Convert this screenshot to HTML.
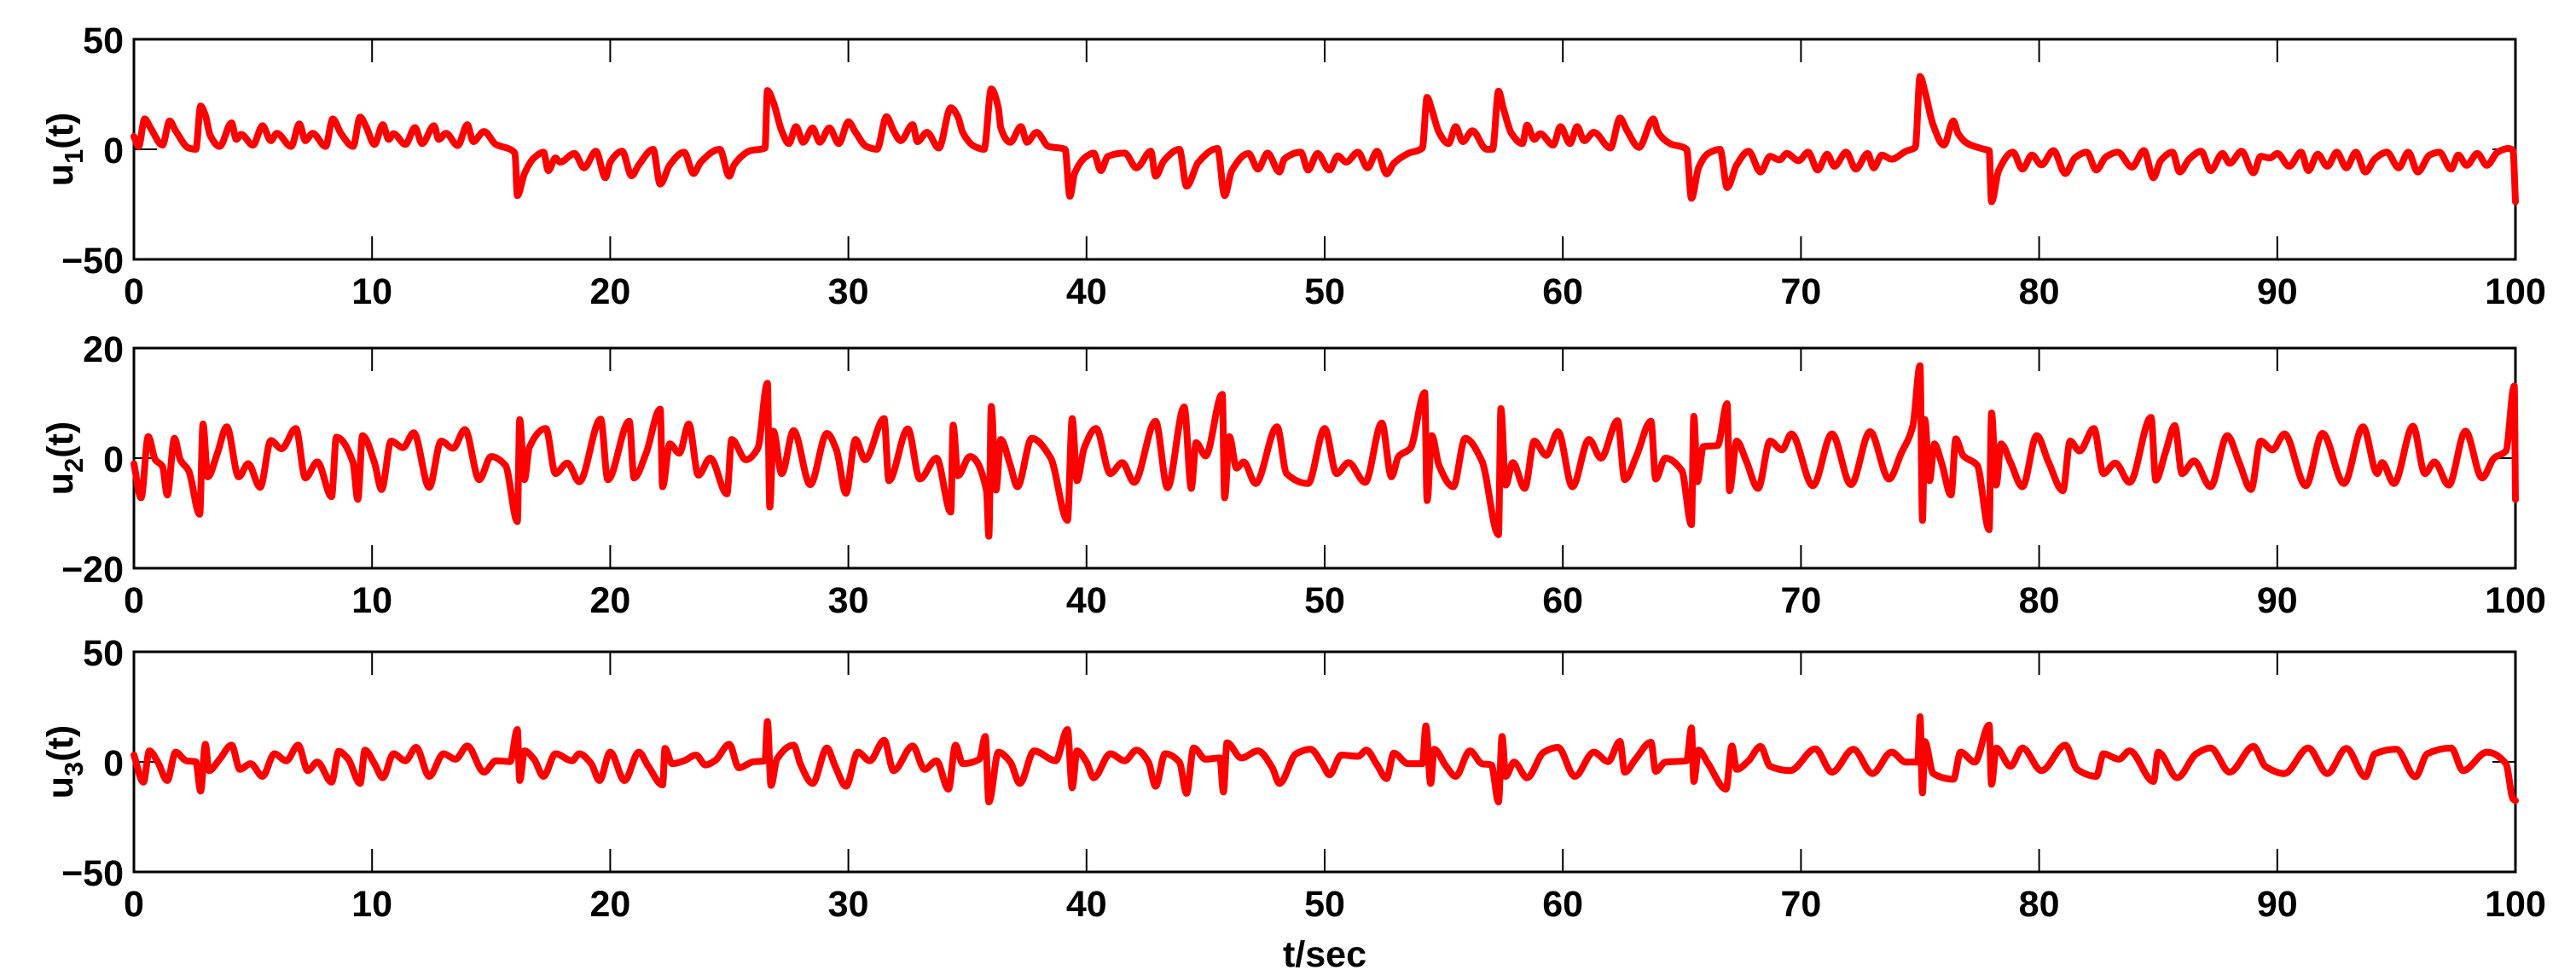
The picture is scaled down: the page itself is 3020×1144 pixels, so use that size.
<!DOCTYPE html>
<html><head><meta charset="utf-8"><style>
html,body{margin:0;padding:0;background:#fff;}
svg{display:block;}
text{font-family:"Liberation Sans",Arial,sans-serif;font-weight:bold;fill:#000;}
</style></head><body>
<svg id="chart" width="3020" height="1144" viewBox="0 0 3020 1144" xmlns="http://www.w3.org/2000/svg"></svg>
<script>
const xTicks = [0,10,20,30,40,50,60,70,80,90,100];
const yTicks1 = [-50,0,50];
const yTicks2 = [-20,0,20];
const yTicks3 = [-50,0,50];
const u1T = [0,0.2,0.45,0.7,1.2,1.5,1.75,2.3,2.6,2.8,3,3.2,3.6,4.1,4.3,4.5,5,5.4,5.75,6,6.6,6.95,7.2,7.5,8.05,8.35,8.7,9.2,9.5,9.75,10.1,10.45,10.7,10.9,11.4,11.8,12.1,12.6,12.8,13.1,13.6,14,14.25,14.7,15.2,15.8,16,16.1,16.4,16.8,17.2,17.4,17.7,17.9,18.5,18.9,19.4,19.8,20,20.5,20.9,21.2,21.8,22.1,22.5,23.1,23.5,23.8,24.6,25,25.2,25.9,26.5,26.6,26.85,27.2,27.5,27.8,28.1,28.5,28.8,29.2,29.6,30,30.3,30.75,31.2,31.6,31.9,32.2,32.7,32.9,33.3,33.8,34.3,34.6,34.8,35.3,35.7,36,36.3,36.4,36.8,37.25,37.5,37.9,38.4,39.1,39.3,39.5,40,40.3,40.6,40.9,41.6,42.1,42.7,42.9,43.25,43.9,44.2,44.7,45.5,45.8,46.1,46.8,47.2,47.6,48.1,48.3,49,49.3,49.7,50.2,50.55,50.9,51.4,51.8,52.2,52.6,52.9,53.5,54.1,54.3,54.5,54.8,55.2,55.5,55.8,56.2,56.8,57.05,57.3,57.5,57.85,58.3,58.5,58.8,59.05,59.6,59.9,60.3,60.6,60.9,61.3,62,62.4,62.7,63.2,63.8,64,64.5,65.2,65.4,65.7,66.1,66.6,66.9,67.3,67.8,68.3,68.7,69.1,69.4,69.9,70.3,70.7,71.1,71.4,71.9,72.3,72.8,73.05,73.4,73.8,74.4,74.8,75,75.2,75.55,76,76.4,76.6,77,77.7,77.9,78,78.3,78.9,79.3,79.7,80.1,80.6,81.1,81.5,82,82.4,82.8,83.3,83.9,84.4,84.8,85.1,85.6,85.9,86.3,86.8,87.2,87.7,88,88.5,89,89.3,89.7,90,90.5,91,91.3,91.7,92.1,92.5,92.9,93.3,93.7,94.1,94.6,95.1,95.5,95.9,96.4,96.8,97.3,97.6,97.95,98.4,98.8,99.25,99.7,99.9,100];
const u1V = [5.8,1.3,13.8,9.7,1.9,12.9,8.4,0.6,0,19.7,15.5,6.4,1.3,12,4.5,6.8,1.9,10.7,3.9,7.3,1.3,11.5,3.9,7.3,1.3,13.8,7.1,1.3,14.6,10.3,2.2,11.2,4.5,7.1,2.2,9.9,2.6,10.7,4.5,7.3,1.7,11.2,3.5,8.1,2.2,0,-1.9,-21,-11,-3.9,-1.3,-9.7,-3.9,-5.8,-1.9,-8.4,-0.9,-12.9,-5.8,-0.9,-12,-7.1,0,-15.8,-7.1,-1.3,-11,-5.8,0,-12.2,-7.1,-0.6,0.6,26.7,21.3,8.4,2.6,10.3,3.2,9.7,3.2,9.7,2.6,12.5,7.7,1.3,0,14.8,8.4,3.9,11.2,3.5,7.7,0.6,18.9,14.8,7.7,1.3,0,27.4,18.7,9.7,3.2,10.3,3.2,7.7,1.3,0,-21.3,-11,-3.2,-1.7,-9.7,-3.2,-1.7,-8.4,-0.9,-12.2,-5.2,0,-16.8,-5.8,0.4,-21,-9.7,-1.9,-9,-1.7,-10.3,-4.5,-1.3,-9.4,-1.9,-9.4,-3,-5.8,-1.3,-8.4,-0.9,-11.2,-6.4,-1.9,0.6,23.6,18,7.7,2.6,10.3,3.5,8.4,0,0,26.4,18.7,7.1,2.6,11,4.5,7.1,1.9,10.3,2.6,10.3,3.9,7.7,0.6,14.2,8.4,0.9,13.8,7.7,2.6,0,-22.3,-8.4,-1.9,0,-17.4,-7.1,-0.9,-10.3,-3.2,-4.8,-1.9,-5.2,-1.3,-9.4,-2.2,-7.7,-1.3,-9,-1.9,-8.4,-2.6,-4.5,-0.9,0.9,33.1,26.4,11,1.9,12.9,7.1,2.6,0,-0.6,-23.8,-9.7,-1.3,-9,-2.6,-7.1,-0.6,-11,-3.9,-1.3,-9.4,-3.5,-1.3,-8.1,-0.6,-12.9,-5.2,-1.3,-10.3,-4.5,-0.9,-9.7,-1.9,-6.4,-0.9,-10.7,-3.2,-3.9,-1.9,-7.7,-1.3,-9.7,-2.2,-7.7,-1.3,-8.4,-1.3,-10.3,-4.3,-1.3,-8.4,-1.3,-10.3,-2.6,-1.3,-9,-2.6,-7.3,-1.9,-7.3,-1.3,0.4,-0.6,-23.8];
const u2T = [0,0.3,0.6,0.9,1.2,1.4,1.7,1.95,2.3,2.76,2.9,3.1,3.5,3.9,4.4,4.8,5.3,5.75,6.2,6.8,7.2,7.7,8.3,8.5,9.2,9.4,9.6,10.1,10.4,10.8,11.3,11.75,12.4,12.9,13.4,13.9,14.5,15,15.6,16.1,16.2,16.4,16.6,17.3,17.7,18.2,18.7,19.6,19.9,20.8,21,21.5,22.1,22.2,22.5,22.9,23.3,23.7,24.2,24.9,25.1,25.7,26.2,26.6,26.7,26.85,27.2,27.7,28.4,29.1,29.5,29.9,30.3,30.7,31.5,31.7,32.5,33,33.7,34.3,34.4,34.6,35.1,35.8,35.9,36,36.2,36.4,36.8,37.1,37.7,38.5,39.2,39.4,39.6,39.9,40.4,41,41.5,42,42.9,43.4,44.1,44.4,44.6,45,45.7,45.8,46,46.3,46.6,47.1,48,48.4,49.3,50,50.5,51,51.7,52.4,52.8,53.1,53.6,54.2,54.3,54.5,54.8,55.4,55.9,56.6,57.3,57.4,57.6,57.9,58.4,58.8,59.3,59.8,60.4,61.1,61.6,62.3,62.6,63.1,63.7,63.9,64.3,65,65.4,65.5,65.65,65.9,66.5,66.9,67,67.3,67.7,68.2,68.7,69.2,69.6,70.5,71.3,72.1,72.9,73.7,74.2,74.7,75,75.1,75.2,75.4,75.6,75.9,76.3,76.5,76.8,77.4,77.9,78,78.2,78.4,78.8,79.3,79.9,80.4,81,81.3,81.7,82.3,82.7,83.2,83.8,84.7,84.9,85.3,85.7,86,86.5,87.2,87.9,88.4,88.9,89.3,89.8,90.3,91.2,91.9,92.8,93.6,94.2,94.4,94.9,95.7,96.2,96.6,97.2,97.9,98.6,99.1,99.6,99.95,100];
const u2V = [-1,-7.2,3.9,-0.3,-1.5,-6.7,3.6,-0.3,-2.3,-10.2,6.2,-3.4,0.8,5.7,-3.4,-1,-5.3,3.2,1.7,5.4,-3.6,-0.7,-7,3.8,-0.8,-7.5,4.1,-0.8,-5.7,3.1,1.9,4.6,-5.3,3.1,1.8,5.2,-3.9,0.3,-1.3,-11.5,7,-3.9,1.9,5.4,-2.8,-0.9,-4.3,7.1,-3.9,6.7,-3.6,0.8,8.9,-5.2,2.6,0.9,6.2,-3.1,0,-6.5,3.4,-0.3,1.8,13.6,-8.9,4.9,-2.8,5,-4.8,4.5,1.5,-6.4,3.4,-0.3,7.2,-4.1,5.3,-3.8,0,-9.8,6,-3.2,0.3,-5.9,-14.2,9.4,-5.8,3.4,-1.3,-5.2,3.6,0,-11.3,7.2,-4.1,1.8,5.4,-2.8,-0.8,-4.4,6.7,-5.4,9.3,-5.5,2.8,0.4,11.6,-7.2,3.9,-1.8,-0.7,-4.6,5.7,-2.8,-4.6,5.4,-2.8,-0.8,-4.4,6.4,-3.4,0.3,1.8,11.9,-7.7,4.1,-1.3,-5.2,3.6,-0.5,-13.9,9,-4.9,-0.8,-5.5,3.1,0.5,4.8,-5.2,3.4,0,6.8,-3.9,0.5,6.7,-3.8,0,-2.3,-12.1,7.6,-4.3,2.1,2.3,9.9,-5.9,3.1,-0.5,-5.5,3.1,1.5,4.4,-5,4.4,-4.8,4.8,-3.8,0.8,5.9,16.8,-11.3,7,-4.1,2.6,-0.8,-6.7,3.5,0.5,-1.3,-13,8.2,-4.9,2.6,-0.8,-5.2,4.1,-0.8,-5.9,3.1,1.3,5.4,-2.8,-0.9,-4.4,7.4,-4,1,5.9,-2.8,-0.5,-5.2,4.1,-0.8,-5.7,3.1,1.5,4.4,-5,4.5,-4.6,5.7,-2.8,-0.8,-4.6,5.8,-2.8,-0.7,-4.9,4.9,-3.6,0,1.3,13.1,-7.5];
const u3T = [0,0.4,0.65,1,1.4,1.75,2.2,2.6,2.8,3,3.15,3.6,4.1,4.45,4.9,5.4,5.9,6.4,6.9,7.3,7.7,8.3,8.6,9,9.5,9.7,10.1,10.45,10.9,11.4,11.85,12.4,13,13.5,14,14.7,15.2,15.8,16.1,16.2,16.4,16.8,17.2,17.7,18.4,18.7,19.2,19.55,20,20.6,21.2,21.6,22.2,22.3,22.6,23.1,23.6,24,24.4,25,25.4,26,26.5,26.6,26.75,27,27.7,28,28.5,29.1,29.45,29.9,30.4,30.9,31.5,31.9,32.7,33.2,33.7,34.2,34.5,34.8,35.5,35.75,35.9,36.3,36.8,37.2,37.8,38.7,39.2,39.4,39.6,40,40.3,41,41.6,42.1,42.6,42.9,43.3,43.9,44.2,44.5,45,45.6,45.75,45.9,46.5,47.2,47.8,48.1,48.8,49.4,49.9,50.2,50.7,51.4,51.75,52.2,52.6,52.9,53.5,54.1,54.25,54.45,54.6,55.1,55.5,56.1,56.6,57,57.3,57.45,57.6,57.95,58.5,59.2,59.8,60.5,61.3,61.9,62.4,62.6,63.05,63.7,63.9,64.3,65.2,65.4,65.5,65.7,66.1,66.85,67.1,67.3,67.8,68.3,68.7,69.55,70.6,71.3,72.2,73,73.8,74.4,74.9,75,75.1,75.2,75.55,76.4,76.7,77.3,77.9,78,78.2,78.8,79.3,80.1,81.1,81.6,82.4,82.7,83.35,83.8,84.8,85,85.8,86.6,87.2,88,89,89.5,90.3,91.3,92.1,92.9,93.7,94.1,95,95.8,96.3,97.3,97.8,98.8,99.6,99.9,100];
const u3V = [3.1,-9.2,5,0,-8.5,4.4,0.5,0,-13.3,8,-4,1.2,7.6,-3.4,-0.8,-6.6,3.7,0.5,7.6,-4,-0.1,-9.2,4.8,1.2,-9.8,5.3,-0.8,-7.2,3.7,0.5,6.6,-6.6,3.7,1.2,7.2,-4.7,0.5,0.1,14.7,-8.5,5,1.2,-6.6,3.7,0.5,3.7,-0.8,-8.5,4.4,-8.5,4.4,-2,-10.5,6.1,-0.8,0.5,3.1,-1.4,0.5,8,-2.7,0,0.5,18.3,-10.7,1.2,7.6,-1.4,-9.8,6.3,-2,-11.1,4.4,0.5,9.8,-4,7.2,-3.4,0.5,-12.4,7.6,-0.8,1.2,11.5,-18.2,4.4,-0.1,-9.8,5,0.5,14.7,-11.8,5,-0.1,-7.2,3.7,0.5,5.3,-0.1,-11.1,3.7,-0.1,-14.3,6.3,1.2,1.8,-13.7,8.7,1.8,5,-2.7,-9.8,3.7,5.7,-0.8,-5.9,3.1,2.5,5.3,-1.4,-7.6,4,-0.8,-0.8,16.3,-9.8,5.7,-2,-6.6,5,-0.8,-1.4,-18.2,11.5,-6.6,-0.1,-7.2,4.4,6.6,-6.6,4.4,0.1,9.3,-4.7,1.2,8.9,-4.3,-0.1,0.5,15.4,-8.9,5.3,-0.8,-12.4,7.2,-3.4,0.5,7,-2,-4,5.9,-4.7,5.7,-5.3,4.4,-0.1,-0.1,20.5,-14.1,9.2,-5.3,-7.9,4.4,-0.1,16.7,-10.2,6.3,-2,6.3,-4,7.6,-3.4,-6.6,3.7,1.2,5,-8.9,4.4,-7.2,3.7,6.3,-4.7,7,-2,-5.3,6.3,-5.3,6.1,-6.8,3.7,5.7,-6.8,3.7,6.3,-4,4.4,-0.8,-16.9,-17.6];

const NS = 'http://www.w3.org/2000/svg';
const svg = document.getElementById('chart');
const X0 = 157, X1 = 2949;
function xScale(t){ return X0 + (t - 0) / 100 * (X1 - X0); }
function mk(tag, attrs, parent){
  const e = document.createElementNS(NS, tag);
  for (const k in attrs) e.setAttribute(k, attrs[k]);
  (parent || svg).appendChild(e);
  return e;
}
// monotone cubic (Fritsch-Carlson) path through points — no overshoot
function monotonePath(xs, ys){
  const n = xs.length;
  const d = [], m = new Array(n);
  for (let i = 0; i < n-1; i++){ const dx = xs[i+1]-xs[i]; d.push(dx === 0 ? 0 : (ys[i+1]-ys[i])/dx); }
  m[0] = d[0]; m[n-1] = d[n-2];
  for (let i = 1; i < n-1; i++){
    if (d[i-1]*d[i] <= 0) m[i] = 0;
    else { const h0 = xs[i]-xs[i-1], h1 = xs[i+1]-xs[i];
      m[i] = 3*(h0+h1) / ((2*h1+h0)/d[i-1] + (h1+2*h0)/d[i]); }
  }
  let s = 'M' + xs[0].toFixed(1) + ',' + ys[0].toFixed(1);
  for (let i = 0; i < n-1; i++){
    const h = (xs[i+1]-xs[i])/3;
    s += ' C' + (xs[i]+h).toFixed(1) + ',' + (ys[i]+m[i]*h).toFixed(1) + ' ' +
         (xs[i+1]-h).toFixed(1) + ',' + (ys[i+1]-m[i+1]*h).toFixed(1) + ' ' +
         xs[i+1].toFixed(1) + ',' + ys[i+1].toFixed(1);
  }
  return s;
}
const panels = [
  {top:46, bottom:304, yTicks:yTicks1, T:u1T, V:u1V, sub:'1', key:'u1'},
  {top:408, bottom:666, yTicks:yTicks2, T:u2T, V:u2V, sub:'2', key:'u2'},
  {top:764, bottom:1022, yTicks:yTicks3, T:u3T, V:u3V, sub:'3', key:'u3'}
];
panels.forEach(p => {
  const g = mk('g', {});
  
  
  const ymin = p.yTicks[0], ymax = p.yTicks[p.yTicks.length-1];
  const yScale = v => p.bottom - (v - ymin) / (ymax - ymin) * (p.bottom - p.top);
  const fr = mk('rect', {x:X0, y:p.top, width:X1-X0, height:p.bottom-p.top, fill:'#fff', stroke:'#000', 'stroke-width':3}, g);
  
  
  xTicks.forEach(t => {
    const x = xScale(t);
    mk('line', {x1:x, y1:p.top, x2:x, y2:p.top+27, stroke:'#000', 'stroke-width':2}, g);
    mk('line', {x1:x, y1:p.bottom, x2:x, y2:p.bottom-27, stroke:'#000', 'stroke-width':2}, g);
    const tl = mk('text', {x:x, y:p.bottom+52, 'text-anchor':'middle', 'font-size':43}, g);
    tl.textContent = t;
    
    
  });
  p.yTicks.forEach(v => {
    const y = yScale(v);
    mk('line', {x1:X0, y1:y, x2:X0+27, y2:y, stroke:'#000', 'stroke-width':2}, g);
    mk('line', {x1:X1, y1:y, x2:X1-27, y2:y, stroke:'#000', 'stroke-width':2}, g);
    const yl = mk('text', {x:X0-12, y:y+16, 'text-anchor':'end', 'font-size':43}, g);
    yl.textContent = (v < 0 ? '\u2212' + Math.abs(v) : v);
    
    
  });
  const xs = p.T.map(t => xScale(t));
  const ys = p.V.map(v => yScale(v));
  const line = mk('path', {d:monotonePath(xs, ys), fill:'none', stroke:'#ff0000', 'stroke-width':8, 'stroke-linejoin':'round', 'stroke-linecap':'round'}, g);
  
  
  const cy = (p.top + p.bottom) / 2;
  const lab = mk('text', {x:0, y:0, 'text-anchor':'middle', 'font-size':43, transform:'translate(85,' + cy + ') rotate(-90)'}, g);
  
  
  const s1 = mk('tspan', {}, lab); s1.textContent = 'u';
  const s2 = mk('tspan', {dy:12, 'font-size':31}, lab); s2.textContent = p.sub;
  const s3 = mk('tspan', {dy:-12}, lab); s3.textContent = '(t)';
});
const xl = mk('text', {x:1553, y:1133, 'text-anchor':'middle', 'font-size':43});
xl.textContent = 't/sec';


</script>
</body></html>
